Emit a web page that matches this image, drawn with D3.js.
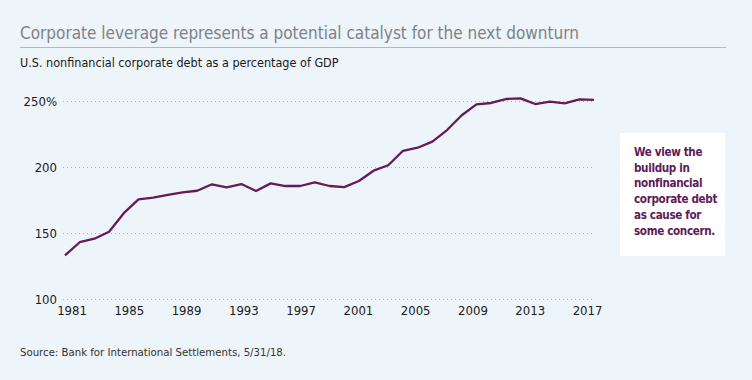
<!DOCTYPE html>
<meta charset="utf-8">
<script src="https://cdn.jsdelivr.net/npm/d3@7"></script>
<style>
body { margin: 0; background: #edf4fa; }
svg text { font-family: "Liberation Sans Narrow", "DejaVu Sans Condensed", "Arial Narrow", sans-serif; }
</style>
<body>
<script>
var W = 752, H = 380;

// data
var years = [1981, 1982, 1983, 1984, 1985, 1986, 1987, 1988, 1989, 1990,
             1991, 1992, 1993, 1994, 1995, 1996, 1997, 1998, 1999, 2000,
             2001, 2002, 2003, 2004, 2005, 2006, 2007, 2008, 2009, 2010,
             2011, 2012, 2013, 2014, 2015, 2016, 2017];
var debt = [133, 143, 145.7, 151, 165, 175.5, 176.8, 178.8, 180.8, 182,
            186.9, 184.6, 187.1, 181.8, 187.6, 185.6, 185.6, 188.4, 185.6, 184.8,
            189.4, 197.2, 201.3, 212.3, 214.6, 219.2, 228, 239.2, 247.5, 248.5,
            251.5, 252, 247.7, 249.5, 248.2, 251.2, 250.8];
var yTicks = [100, 150, 200, 250];
var xTicks = [1981, 1985, 1989, 1993, 1997, 2001, 2005, 2009, 2013, 2017];
var note = ["We view the", "buildup in", "nonfinancial", "corporate debt", "as cause for", "some concern."];

var svg = d3.select("body").append("svg")
    .attr("width", W)
    .attr("height", H);

svg.append("rect").attr("width", W).attr("height", H).attr("fill", "#edf4fa");

// header
svg.append("text")
    .attr("x", 20).attr("y", 39)
    .style("font-size", "17px")
    .attr("fill", "#7d8287")
    .text("Corporate leverage represents a potential catalyst for the next downturn");

svg.append("line")
    .attr("x1", 20).attr("x2", 726)
    .attr("y1", 47.5).attr("y2", 47.5)
    .attr("stroke", "#b5b9bd");

svg.append("text")
    .attr("x", 20).attr("y", 67)
    .style("font-size", "12.5px")
    .attr("fill", "#1a1a1a")
    .text("U.S. nonfinancial corporate debt as a percentage of GDP");

var x = d3.scaleLinear().domain([1981, 2017]).range([65, 594]);
var xLab = d3.scaleLinear().domain([1981, 2017]).range([71.5, 587]);
var y = d3.scaleLinear().domain([100, 250]).range([299, 101]);

// gridlines
svg.append("g")
    .selectAll("line")
    .data(yTicks)
    .enter().append("line")
    .attr("x1", 63).attr("x2", 593)
    .attr("y1", function(d) { return Math.round(y(d)) + 0.5; })
    .attr("y2", function(d) { return Math.round(y(d)) + 0.5; })
    .attr("stroke", "#a9b0b6")
    .attr("stroke-dasharray", "1,3");

svg.append("g")
    .selectAll("text")
    .data(yTicks)
    .enter().append("text")
    .attr("x", 57)
    .attr("y", function(d) { return y(d) + 4.5; })
    .attr("text-anchor", "end")
    .style("font-size", "13px")
    .attr("fill", "#1a1a1a")
    .text(function(d) { return d == 250 ? d + "%" : d; });

// x axis labels
var xAxis = d3.axisBottom(xLab).tickValues(xTicks).tickFormat(d3.format("d")).tickSize(0);
var gx = svg.append("g")
    .attr("transform", "translate(0,303)")
    .call(xAxis);
gx.select(".domain").remove();
gx.selectAll("text")
    .style("font-size", "13px")
    .style("font-family", null)
    .attr("fill", "#1a1a1a");

// the line
var line = d3.line()
    .x(function(d, i) { return x(years[i]); })
    .y(function(d) { return y(d); });

svg.append("path")
    .datum(debt)
    .attr("d", line)
    .attr("fill", "none")
    .attr("stroke", "#661a5c")
    .attr("stroke-width", 2.3)
    .attr("stroke-linejoin", "round");

// note box
svg.append("rect")
    .attr("x", 620).attr("y", 133)
    .attr("width", 105).attr("height", 123)
    .attr("fill", "#ffffff");

svg.append("g")
    .selectAll("text")
    .data(note)
    .enter().append("text")
    .attr("x", 634)
    .attr("y", function(d, i) { return 156 + i * 15.7; })
    .style("font-size", "11.6px")
    .style("letter-spacing", "-0.35px")
    .style("font-weight", "bold")
    .attr("fill", "#5e1a58")
    .text(function(d) { return d; });

// source
svg.append("text")
    .attr("x", 20).attr("y", 356)
    .style("font-size", "11.3px")
    .attr("fill", "#333")
    .text("Source: Bank for International Settlements, 5/31/18.");
</script>
</body>
</html>
